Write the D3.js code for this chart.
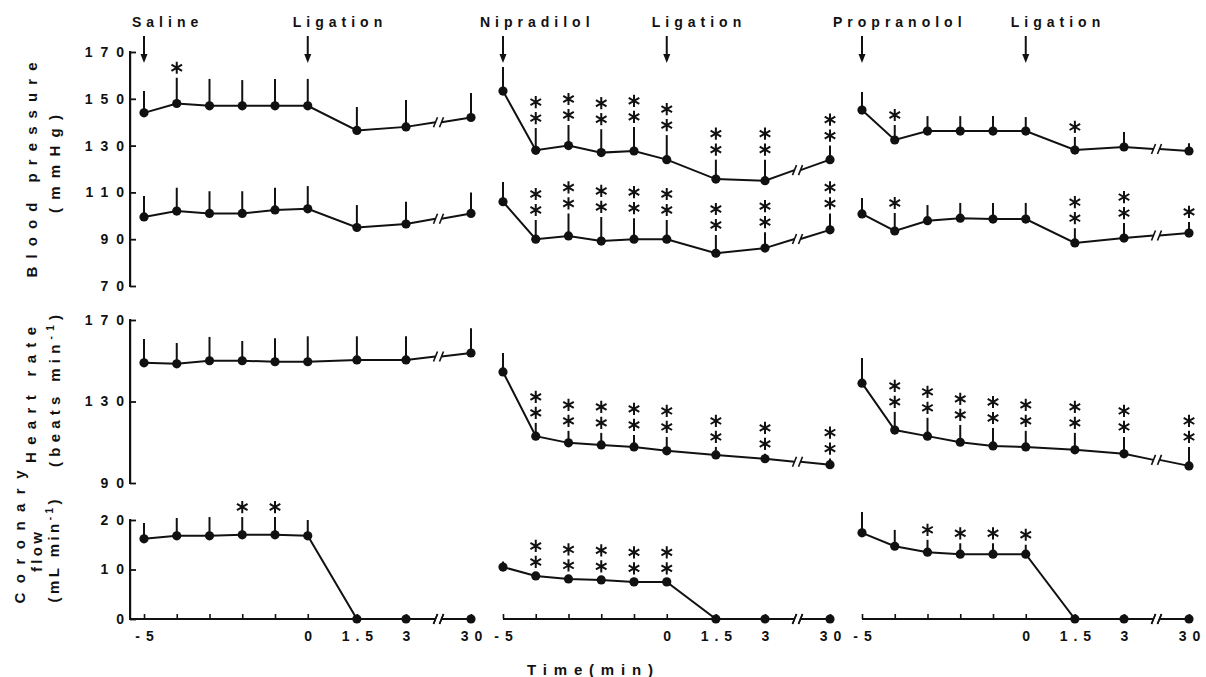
<!DOCTYPE html>
<html>
<head>
<meta charset="utf-8">
<script src="https://cdn.jsdelivr.net/npm/d3@7"></script>
<style>
body { margin: 0; background: #fff; }
text { font-family: "Liberation Sans", Arial, sans-serif; font-weight: bold; fill: #111; }
</style>
</head>
<body>
<svg id="chart" width="1206" height="677"></svg>
<script>
// time points (min), same for every panel
var times = [-5, -4, -3, -2, -1, 0, 1.5, 3, 30];
var timeLabels = ["-5", "", "", "", "", "0", "1.5", "3", "30"];

var drugs = ["Saline", "Nipradilol", "Propranolol"];
var eventLabel = "Ligation";

// y ticks
var bpTicks = [70, 90, 110, 130, 150, 170];
var hrTicks = [90, 130, 170];
var cfTicks = [0, 10, 20];

// ---- Saline
var sbpSaline    = [144, 148, 147, 147, 147, 147, 136.5, 138, 142];
var sbpSalineSem = [9.3, 11, 11.5, 11, 11.5, 11.5, 10, 11.5, 10.5];
var sbpSalineSig = [0, 1, 0, 0, 0, 0, 0, 0, 0];
var dbpSaline    = [99.5, 102, 101, 101, 102.5, 103, 95, 96.5, 101];
var dbpSalineSem = [9, 10, 9.5, 9.5, 9.5, 9.7, 9.6, 9.5, 9];
var dbpSalineSig = [0, 0, 0, 0, 0, 0, 0, 0, 0];
var hrSaline     = [149, 148.5, 150, 150, 149.5, 149.5, 150.4, 150.4, 153.8];
var hrSalineSem  = [11.7, 10.2, 11.7, 9.7, 11.5, 12.5, 11.6, 11.6, 12.2];
var hrSalineSig  = [0, 0, 0, 0, 0, 0, 0, 0, 0];
var cfSaline     = [16.2, 16.8, 16.8, 17, 17, 16.8, 0, 0, 0];
var cfSalineSem  = [3.2, 3.6, 3.8, 3.6, 3.6, 3.2, 0, 0, 0];
var cfSalineSig  = [0, 0, 0, 1, 1, 0, 0, 0, 0];

// ---- Nipradilol
var sbpNip    = [153.3, 128, 130, 127, 127.7, 124, 115.7, 115, 124];
var sbpNipSem = [10.3, 9.5, 8.8, 10, 10.3, 10.5, 8.3, 9, 6];
var sbpNipSig = [0, 2, 2, 2, 2, 2, 2, 2, 2];
var dbpNip    = [106, 90, 91.4, 89.2, 90, 90, 84, 86.2, 94];
var dbpNipSem = [8.4, 8.2, 9.6, 10.3, 9, 8.2, 7.8, 6.8, 7];
var dbpNipSig = [0, 2, 2, 2, 2, 2, 2, 2, 2];
var hrNip     = [144.5, 113, 109.7, 108.7, 107.7, 105.8, 103.8, 101.9, 99];
var hrNipSem  = [9.3, 6.5, 5.9, 5.9, 5.9, 6.8, 3.9, 2.4, 3];
var hrNipSig  = [0, 2, 2, 2, 2, 2, 2, 2, 2];
var cfNip     = [10.5, 8.7, 8.1, 7.9, 7.5, 7.5, 0, 0, 0];
var cfNipSem  = [1.1, 0.8, 0.7, 0.7, 0.7, 0.7, 0, 0, 0];
var cfNipSig  = [0, 2, 2, 2, 2, 2, 0, 0, 0];

// ---- Propranolol
var sbpPro    = [145.2, 132.4, 136.2, 136.2, 136.2, 136.2, 128.1, 129.4, 127.7];
var sbpProSem = [7.7, 6.4, 6.4, 6.4, 6.4, 6, 5.6, 6.4, 3.3];
var sbpProSig = [0, 1, 0, 0, 0, 0, 1, 0, 0];
var dbpPro    = [100.8, 93.5, 97.9, 99, 98.6, 98.6, 88.4, 90.5, 92.6];
var dbpProSem = [6.8, 7.7, 6.7, 6.5, 6.9, 6.9, 6.3, 6.4, 4.8];
var dbpProSig = [0, 1, 0, 0, 0, 0, 2, 2, 1];
var hrPro     = [139, 116, 113, 110, 108.2, 107.7, 106.3, 104.3, 98.4];
var hrProSem  = [12.4, 8.9, 9, 8.5, 8.8, 7.9, 8.3, 8.3, 9.3];
var hrProSig  = [0, 2, 2, 2, 2, 2, 2, 2, 2];
var cfPro     = [17.4, 14.7, 13.5, 13.1, 13.1, 13.1, 0, 0, 0];
var cfProSem  = [4.2, 3.3, 2.5, 2.2, 2.2, 1.9, 0, 0, 0];
var cfProSig  = [0, 0, 1, 1, 1, 1, 0, 0, 0];

//--------------- layout
var svg = d3.select("#chart");
var ink = "#111";

var panelX = [144, 503, 862];      // pixel of t = -5 in each panel
var labelShift = [-12, -23, -29];  // drug label start relative to arrow
var yAxisX = 130;

// broken time axis: -5..3 linear, then jump to 30
var x = d3.scaleLinear().domain([-5, 3, 30]).range([0, 262, 327]);
var xBreak = (x(3) + x(30)) / 2;

var yBP = d3.scaleLinear().domain([70, 170]).range([286, 52]);
var yHR = d3.scaleLinear().domain([90, 170]).range([483, 320]);
var yCF = d3.scaleLinear().domain([0, 20]).range([619, 520]);

var panels = [
  { series: [[sbpSaline, sbpSalineSem, sbpSalineSig, yBP], [dbpSaline, dbpSalineSem, dbpSalineSig, yBP],
             [hrSaline, hrSalineSem, hrSalineSig, yHR], [cfSaline, cfSalineSem, cfSalineSig, yCF]] },
  { series: [[sbpNip, sbpNipSem, sbpNipSig, yBP], [dbpNip, dbpNipSem, dbpNipSig, yBP],
             [hrNip, hrNipSem, hrNipSig, yHR], [cfNip, cfNipSem, cfNipSig, yCF]] },
  { series: [[sbpPro, sbpProSem, sbpProSig, yBP], [dbpPro, dbpProSem, dbpProSig, yBP],
             [hrPro, hrProSem, hrProSig, yHR], [cfPro, cfProSem, cfProSig, yCF]] }
];

var line = d3.line();
var star = d3.symbol().type(d3.symbolAsterisk).size(105);

// draw a short "//" break mark centred on (cx, cy)
function breakMark(g, cx, cy) {
  [-3, 3].forEach(function(dx) {
    g.append("path")
      .attr("d", line([[cx + dx - 2, cy + 5], [cx + dx + 2, cy - 5]]))
      .attr("stroke", ink).attr("stroke-width", 1.6).attr("fill", "none");
  });
}

function drawSeries(g, mean, sem, sig, y) {
  var pts = times.map(function(t, i) { return [x(t), y(mean[i])]; });
  var p7 = pts[7], p8 = pts[8];
  var yb = p7[1] + (p8[1] - p7[1]) * (xBreak - p7[0]) / (p8[0] - p7[0]);

  g.append("path")
    .attr("d", line(pts.slice(0, 8).concat([[xBreak - 3, yb]])))
    .attr("fill", "none").attr("stroke", ink).attr("stroke-width", 2);
  g.append("path")
    .attr("d", line([[xBreak + 3, yb], p8]))
    .attr("fill", "none").attr("stroke", ink).attr("stroke-width", 2);
  breakMark(g, xBreak, yb);

  // error bars (upward only)
  g.selectAll(null).data(times).enter().append("line")
    .attr("x1", function(t) { return x(t); })
    .attr("x2", function(t) { return x(t); })
    .attr("y1", function(t, i) { return y(mean[i]); })
    .attr("y2", function(t, i) { return y(mean[i] + sem[i]); })
    .attr("stroke", ink).attr("stroke-width", 2);

  g.selectAll(null).data(times).enter().append("circle")
    .attr("cx", function(t) { return x(t); })
    .attr("cy", function(t, i) { return y(mean[i]); })
    .attr("r", 4.6)
    .attr("fill", ink);

  // significance stars stacked above the error bar
  times.forEach(function(t, i) {
    for (var k = 0; k < sig[i]; k++) {
      g.append("path")
        .attr("d", star())
        .attr("transform", "translate(" + x(t) + "," + (y(mean[i] + sem[i]) - 10 - 16 * k) + ")")
        .attr("fill", "none").attr("stroke", ink).attr("stroke-width", 2);
    }
  });
}

panels.forEach(function(p, i) {
  var g = svg.append("g").attr("transform", "translate(" + panelX[i] + ",0)");

  p.series.forEach(function(s) { drawSeries(g, s[0], s[1], s[2], s[3]); });

  // x axis with upward ticks, baseline drawn by hand because of the break
  var xAxis = g.append("g")
    .attr("transform", "translate(0," + yCF(0) + ")")
    .call(d3.axisBottom(x).tickValues(times)
      .tickFormat(function(d, j) { return timeLabels[j]; })
      .tickSize(-5).tickPadding(12));
  xAxis.select(".domain").remove();
  xAxis.selectAll(".tick line").attr("stroke", ink).attr("stroke-width", 1.6);
  xAxis.selectAll("text")
    .attr("font-size", 14).attr("font-family", null)
    .style("letter-spacing", "6px").attr("dx", 3);

  var x0 = i == 0 ? yAxisX - panelX[0] : 0;
  g.append("path")
    .attr("d", line([[x0, yCF(0)], [xBreak - 3, yCF(0)]]))
    .attr("stroke", ink).attr("stroke-width", 2);
  g.append("path")
    .attr("d", line([[xBreak + 3, yCF(0)], [x(30), yCF(0)]]))
    .attr("stroke", ink).attr("stroke-width", 2);
  breakMark(g, xBreak, yCF(0));

  // arrows + treatment labels
  [[-5, drugs[i], labelShift[i]], [0, eventLabel, -15]].forEach(function(a) {
    var ax = x(a[0]);
    g.append("line")
      .attr("x1", ax).attr("x2", ax).attr("y1", 36).attr("y2", 56)
      .attr("stroke", ink).attr("stroke-width", 2);
    g.append("path")
      .attr("d", line([[ax - 3.5, 54], [ax + 3.5, 54], [ax, 63]]) + "Z")
      .attr("fill", ink);
    g.append("text")
      .attr("x", ax + a[2]).attr("y", 27)
      .attr("font-size", 14)
      .style("letter-spacing", "5px")
      .text(a[1]);
  });
});

// y axes, only on the left panel, ticks pointing inward
[[yBP, bpTicks], [yHR, hrTicks], [yCF, cfTicks]].forEach(function(a) {
  var r = a[0].range();
  // the spine
  svg.append("rect")
    .attr("x", yAxisX - 1).attr("y", r[1] - 1)
    .attr("width", 2.2).attr("height", r[0] - r[1] + 2)
    .attr("fill", ink);

  var yAxis = svg.append("g")
    .attr("transform", "translate(" + yAxisX + ",0)")
    .call(d3.axisLeft(a[0]).tickValues(a[1]).tickSize(-6).tickPadding(6));
  yAxis.select(".domain").remove();
  yAxis.selectAll(".tick line").attr("stroke", ink).attr("stroke-width", 1.8);
  yAxis.selectAll("text")
    .attr("font-size", 14).attr("font-family", null)
    .style("letter-spacing", "8px").attr("dx", 8);
});

// rotated y titles: [text, superscript, rest, baseline x, centre y, length]
var yTitles = [
  ["Blood pressure", "", "", 37, 170, 215],
  ["(mmHg)", "", "", 60, 164, 98],
  ["Heart rate", "", "", 36, 395, 136],
  ["(beats min", "-1", ")", 60, 391, 152],
  ["Coronary", "", "", 25, 537, 133],
  ["flow", "", "", 42, 552, 40],
  ["(mL min", "-1", ")", 59, 551, 103]
];
yTitles.forEach(function(t) {
  var tx = svg.append("text")
    .attr("transform", "translate(" + t[3] + "," + t[4] + ") rotate(-90)")
    .attr("text-anchor", "middle")
    .attr("font-size", 15)
    .attr("textLength", t[5])
    .attr("lengthAdjust", "spacing");
  tx.append("tspan").text(t[0]);
  if (t[1]) {
    tx.append("tspan").attr("dy", -6).attr("font-size", 10).text(t[1]);
    tx.append("tspan").attr("dy", 6).text(t[2]);
  }
});

svg.append("text")
  .attr("x", 590).attr("y", 675)
  .attr("text-anchor", "middle")
  .attr("font-size", 15)
  .attr("textLength", 126).attr("lengthAdjust", "spacing")
  .text("Time(min)");
</script>
</body>
</html>
